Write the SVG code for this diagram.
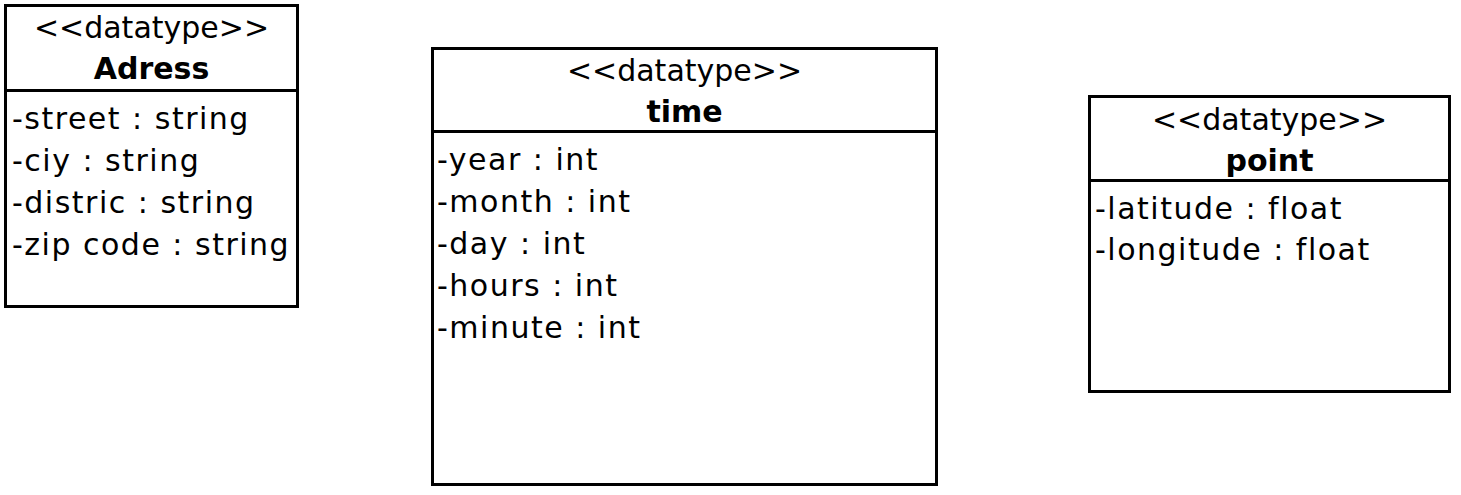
<svg xmlns="http://www.w3.org/2000/svg" width="1461" height="495" viewBox="0 0 1461 495">
<style>
.box{fill:#fff;stroke:#000;stroke-width:3}
.div{stroke:#000;stroke-width:3}
text{font-family:"DejaVu Sans","Liberation Sans",sans-serif;font-size:30px;fill:#000}
.c{text-anchor:middle}
.b{font-weight:bold}
.a{letter-spacing:1.5px}
</style>
<rect width="1461" height="495" fill="#fff"/>
<g id="adress">
<rect class="box" x="5.5" y="5.5" width="292" height="301"/>
<line class="div" x1="5.5" y1="90.5" x2="297.5" y2="90.5"/>
<text class="c" x="151.5" y="38">&lt;&lt;datatype&gt;&gt;</text>
<text class="c b" x="151.5" y="79">Adress</text>
<text class="a" x="12" y="129">-street : string</text>
<text class="a" x="12" y="171">-ciy : string</text>
<text class="a" x="12" y="213">-distric : string</text>
<text class="a" x="12" y="255">-zip code : string</text>
</g>
<g id="time">
<rect class="box" x="432.5" y="48.5" width="504" height="436"/>
<line class="div" x1="432.5" y1="131.5" x2="936.5" y2="131.5"/>
<text class="c" x="684.5" y="81">&lt;&lt;datatype&gt;&gt;</text>
<text class="c b" x="684.5" y="122">time</text>
<text class="a" x="437" y="170">-year : int</text>
<text class="a" x="437" y="212">-month : int</text>
<text class="a" x="437" y="254">-day : int</text>
<text class="a" x="437" y="296">-hours : int</text>
<text class="a" x="437" y="338">-minute : int</text>
</g>
<g id="point">
<rect class="box" x="1089.5" y="96.5" width="360" height="295"/>
<line class="div" x1="1089.5" y1="180.5" x2="1449.5" y2="180.5"/>
<text class="c" x="1269.5" y="130">&lt;&lt;datatype&gt;&gt;</text>
<text class="c b" x="1269.5" y="171">point</text>
<text class="a" x="1095" y="219">-latitude : float</text>
<text class="a" x="1095" y="260">-longitude : float</text>
</g>
<g id="connectors"/>
</svg>
